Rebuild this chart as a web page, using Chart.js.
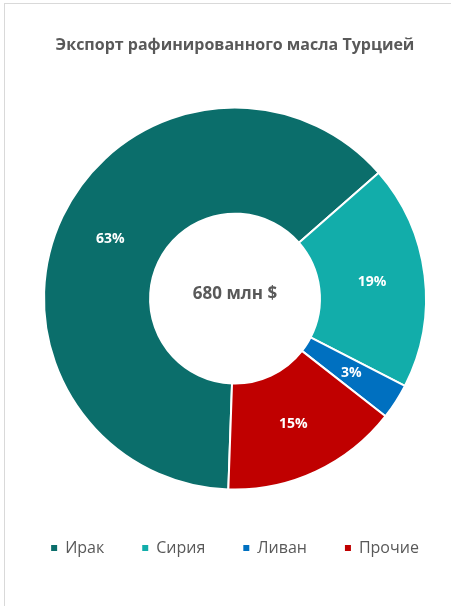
<!DOCTYPE html>
<html lang="ru">
<head>
<meta charset="utf-8">
<script src="https://cdn.jsdelivr.net/npm/chart.js@4"></script>
<style>
  html, body { margin: 0; padding: 0; background: #fff; overflow: hidden; }
  .marco { position: absolute; left: 4px; top: 3px; width: 540px; height: 700px; border: 1px solid #d9d9d9; }
  .contenedor { position: absolute; left: 0; top: 0; width: 451px; height: 606px; }
</style>
</head>
<body>
<div class="marco"></div>
<div class="contenedor"><canvas id="grafica"></canvas></div>
<script>
const titulo = 'Экспорт рафинированного масла Турцией';
const textoCentro = '680 млн $';
const paises = ['Ирак', 'Сирия', 'Ливан', 'Прочие'];
const porcentajes = [63, 19, 3, 15];
const colores = ['#0B6E6B', '#12ADAA', '#0070C0', '#C00000'];

const fuente = '"Open Sans", "DejaVu Sans", sans-serif';

// Etiquetas de porcentaje y texto central
const etiquetas = {
    id: 'etiquetas',
    beforeLayout(chart) {
        // la leyenda cabe en una sola fila aunque el padding sea grande
        const leyenda = chart.legend;
        if (leyenda && !leyenda._unaFila) {
            const fitOriginal = leyenda.fit;
            leyenda.fit = function () {
                const anchoMax = this.maxWidth;
                this.maxWidth = anchoMax + 60;
                fitOriginal.call(this);
                this.maxWidth = anchoMax;
                this.width = Math.min(this.width, anchoMax);
            };
            const drawOriginal = leyenda.draw;
            leyenda.draw = function () {
                const izq = this.left, der = this.right;
                this.left = izq - 30;
                this.right = der + 30;
                drawOriginal.call(this);
                this.left = izq;
                this.right = der;
            };
            leyenda._unaFila = true;
        }
    },
    afterDatasetsDraw(chart) {
        const ctx = chart.ctx;
        const meta = chart.getDatasetMeta(0);
        ctx.save();
        ctx.textAlign = 'center';
        ctx.textBaseline = 'middle';
        ctx.fillStyle = '#ffffff';
        ctx.font = 'bold 14px ' + fuente;
        meta.data.forEach((arco, i) => {
            const p = arco.tooltipPosition();
            ctx.fillText(porcentajes[i] + '%', p.x, p.y);
        });
        ctx.fillStyle = '#595959';
        ctx.font = 'bold 17px ' + fuente;
        ctx.fillText(textoCentro, meta.data[0].x, meta.data[0].y - 4);
        ctx.restore();
    }
};

new Chart(document.getElementById('grafica'), {
    type: 'doughnut',
    data: {
        labels: paises,
        datasets: [{
            data: porcentajes,
            backgroundColor: colores,
            borderColor: '#ffffff',
            borderWidth: 2
        }]
    },
    options: {
        responsive: true,
        maintainAspectRatio: false,
        animation: false,
        radius: 191,
        cutout: 90,
        rotation: 182,
        layout: { padding: { left: 19, bottom: 40 } },
        plugins: {
            title: {
                display: true,
                text: titulo,
                color: '#595959',
                font: { family: fuente, size: 16, weight: 'bold' },
                padding: { top: 36, bottom: 40 }
            },
            legend: {
                position: 'bottom',
                labels: {
                    boxWidth: 6,
                    boxHeight: 6,
                    padding: 38,
                    color: '#595959',
                    font: { family: fuente, size: 16 },
                    generateLabels: (chart) => Chart.overrides.doughnut.plugins.legend.labels
                        .generateLabels(chart).map(l => ({ ...l, lineWidth: 0 }))
                }
            },
            tooltip: { enabled: false }
        }
    },
    plugins: [etiquetas]
});
</script>
</body>
</html>
